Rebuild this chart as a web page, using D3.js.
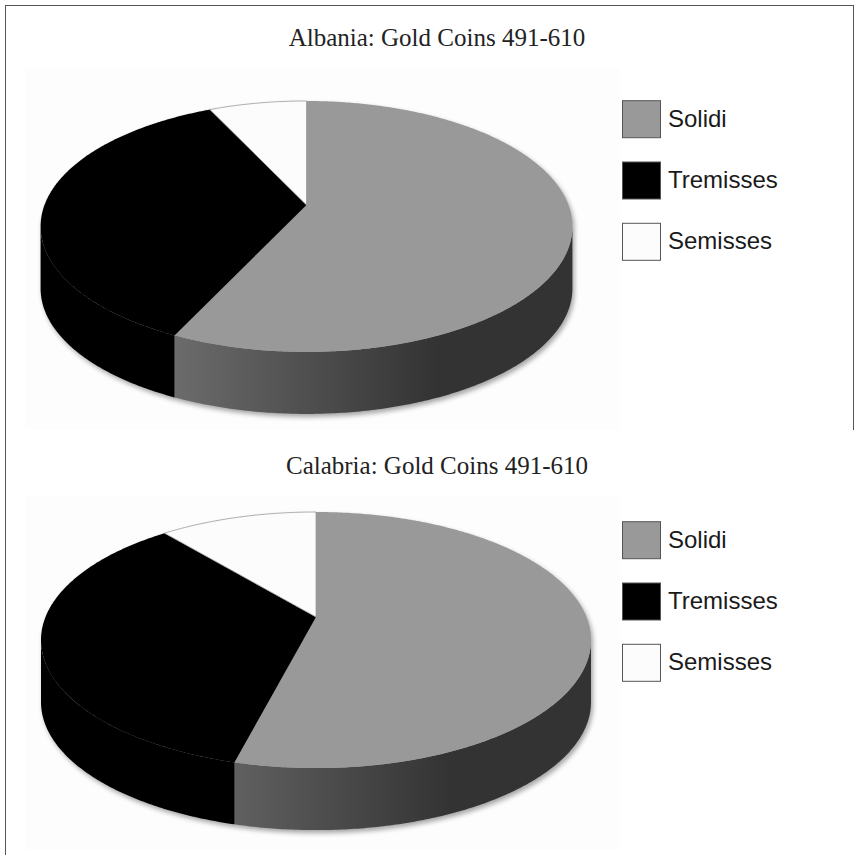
<!DOCTYPE html>
<html><head><meta charset="utf-8">
<script src="https://cdn.jsdelivr.net/npm/d3@7"></script>
<style>body{margin:0;background:#fff}svg{display:block}</style>
</head><body>
<script>
const categories = ["Solidi", "Tremisses", "Semisses"];
const albaniaValues = [57, 36, 7];
const calabriaValues = [54, 35, 11];
const chartTitles = ["Albania: Gold Coins 491-610", "Calabria: Gold Coins 491-610"];
const sliceColors = ["#999999", "#000000", "#fcfcfc"];

const W = 860, H = 855;
const svg = d3.select("body").append("svg").attr("width", W).attr("height", H);
const defs = svg.append("defs");
const f = defs.append("filter").attr("id", "blur").attr("x", "-10%").attr("y", "-10%").attr("width", "120%").attr("height", "130%");
f.append("feGaussianBlur").attr("stdDeviation", 2.5);

// frame
svg.append("line").attr("x1", 5.5).attr("y1", 5).attr("x2", 5.5).attr("y2", H).attr("stroke", "#555").attr("stroke-width", 1);
svg.append("line").attr("x1", 5).attr("y1", 5.5).attr("x2", 854).attr("y2", 5.5).attr("stroke", "#555").attr("stroke-width", 1);
svg.append("line").attr("x1", 853.5).attr("y1", 5).attr("x2", 853.5).attr("y2", 430).attr("stroke", "#555").attr("stroke-width", 1);

const charts = [
  {title: chartTitles[0], values: albaniaValues, cx: 306.5, cy: 205, A: 262, B: 121.8, p: 0.171, depth: 62, titleY: 46, legendY: 100.7, bgY: 68, bgB: 430},
  {title: chartTitles[1], values: calabriaValues, cx: 316, cy: 617, A: 270.5, B: 123.9, p: 0.18, depth: 62, titleY: 474, legendY: 521.7, bgY: 495, bgB: 850}
];

charts.forEach((c, ci) => {
  const g = svg.append("g");
  g.append("rect").attr("x", 25).attr("y", c.bgY).attr("width", 595).attr("height", c.bgB - c.bgY).attr("fill", "#fdfdfd");

  g.append("text").attr("x", 437).attr("y", c.titleY).attr("text-anchor", "middle")
    .attr("font-family", "'Liberation Serif', 'Times New Roman', serif").attr("font-size", 25)
    .attr("fill", "#222").text(c.title);

  const grad = defs.append("linearGradient").attr("id", "side" + ci).attr("gradientUnits", "userSpaceOnUse")
    .attr("x1", c.cx - 0.55 * c.A).attr("x2", c.cx + 0.5 * c.A).attr("y1", 0).attr("y2", 0);
  grad.append("stop").attr("offset", 0).attr("stop-color", "#6e6e6e");
  grad.append("stop").attr("offset", 1).attr("stop-color", "#333333");

  const proj = (a, r = 1) => {
    const u = r * Math.sin(a), v = -r * Math.cos(a);
    const w = 1 - c.p * v;
    return [c.cx + c.A * u / w, c.cy + c.B * v / w];
  };
  const arcPts = (a0, a1, dy = 0) => {
    const n = Math.max(2, Math.ceil(Math.abs(a1 - a0) / 0.01));
    return d3.range(n + 1).map(i => { const q = proj(a0 + (a1 - a0) * i / n); return [q[0], q[1] + dy]; });
  };
  const line = d3.line();
  const th1 = Math.acos(-c.p), th2 = 2 * Math.PI - th1;

  // shadow
  const outline = arcPts(th2, th1 + 2 * Math.PI).concat(arcPts(th1, th2, c.depth));
  g.append("path").attr("d", line(outline) + "Z").attr("fill", "#000").attr("opacity", 0.35)
    .attr("transform", "translate(2,3)").attr("filter", "url(#blur)");

  const arcs = d3.pie().sort(null).value(d => d)(c.values);

  // side walls
  arcs.forEach((d, i) => {
    const s = Math.max(d.startAngle, th1), e = Math.min(d.endAngle, th2);
    if (s < e) {
      const pts = arcPts(s, e).concat(arcPts(e, s, c.depth));
      g.append("path").attr("d", line(pts) + "Z")
        .attr("fill", i === 0 ? `url(#side${ci})` : sliceColors[i]);
    }
  });

  // top faces
  arcs.forEach((d, i) => {
    const pts = [proj(0, 0)].concat(arcPts(d.startAngle, d.endAngle));
    g.append("path").attr("d", line(pts) + "Z").attr("fill", sliceColors[i])
      .attr("stroke", i === 2 ? "#9a9a9a" : "none").attr("stroke-width", 0.8);
  });

  // legend
  categories.forEach((name, i) => {
    const y = c.legendY + i * 61.3;
    g.append("rect").attr("x", 622.5).attr("y", y).attr("width", 38).attr("height", 37)
      .attr("fill", sliceColors[i]).attr("stroke", "#555").attr("stroke-width", 1);
    g.append("text").attr("x", 668).attr("y", y + 26)
      .attr("font-family", "'Liberation Sans', Arial, sans-serif").attr("font-size", 24)
      .attr("fill", "#1a1a1a").text(name);
  });
});
</script>
</body></html>
